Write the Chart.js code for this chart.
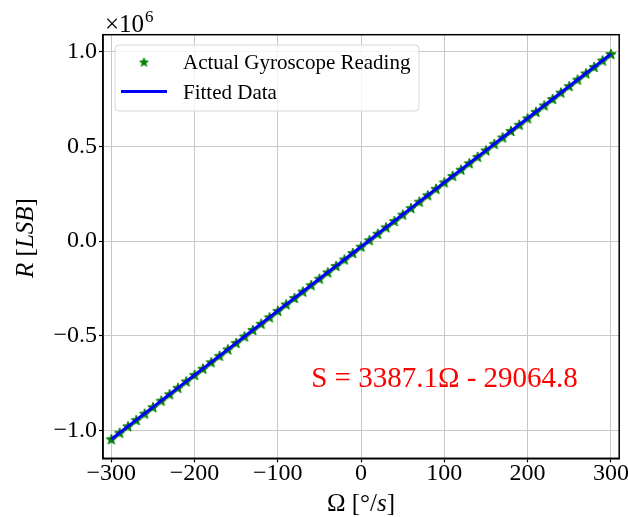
<!DOCTYPE html>
<html>
<head>
<meta charset="utf-8">
<script src="https://cdn.jsdelivr.net/npm/chart.js@4.4.1/dist/chart.umd.min.js"></script>
<style>
  html, body { margin: 0; padding: 0; background: #ffffff; }
  #wrap { width: 628px; height: 517px; position: relative; }
</style>
</head>
<body>
<div id="wrap"><canvas id="chart" width="628" height="517"></canvas></div>
<script>
// Angular rate set points [deg/s]
const omega = [
  -300, -290, -280, -270, -260, -250, -240, -230, -220, -210,
  -200, -190, -180, -170, -160, -150, -140, -130, -120, -110,
  -100, -90, -80, -70, -60, -50, -40, -30, -20, -10,
  0, 10, 20, 30, 40, 50, 60, 70, 80, 90,
  100, 110, 120, 130, 140, 150, 160, 170, 180, 190,
  200, 210, 220, 230, 240, 250, 260, 270, 280, 290, 300
];

// Raw gyroscope output [LSB]
const reading = [
  -1045000, -1011000, -977000, -944000, -910000, -876000, -842000, -808000, -774000, -740000,
  -706000, -673000, -639000, -605000, -571000, -537000, -503000, -469000, -436000, -402000,
  -368000, -334000, -300000, -266000, -232000, -198000, -165000, -131000, -97000, -63000,
  -29000, 5000, 39000, 73000, 106000, 140000, 174000, 208000, 242000, 276000,
  310000, 344000, 377000, 411000, 445000, 479000, 513000, 547000, 581000, 614000,
  648000, 682000, 716000, 750000, 784000, 818000, 852000, 885000, 919000, 953000, 987000
];

// Least-squares fit R = S * omega + b
const fitSlope = 3387.1;
const fitIntercept = -29064.8;
const fitText = 'S = 3387.1Ω - 29064.8';

const seriesNames = ['Actual Gyroscope Reading', 'Fitted Data'];

const xTicks = [-300, -200, -100, 0, 100, 200, 300];
const xTickLabels = ['−300', '−200', '−100', '0', '100', '200', '300'];
const yTicks = [-1000000, -500000, 0, 500000, 1000000];
const yTickLabels = ['−1.0', '−0.5', '0.0', '0.5', '1.0'];
const yScaleText = '×10';
const yScaleExp = '6';

const SERIF = '"Liberation Serif", "DejaVu Serif", serif';
const GREEN = '#008000';
const BLUE = '#0000ff';

// filled five-point star used as the point marker
function makeStar(r, color) {
  const size = Math.ceil(r * 2 + 3);
  const cv = document.createElement('canvas');
  cv.width = size; cv.height = size;
  const g = cv.getContext('2d');
  g.translate(size / 2, size / 2 + 0.5);
  g.beginPath();
  for (let i = 0; i < 10; i++) {
    const rr = (i % 2) ? r * 0.42 : r;
    const a = -Math.PI / 2 + i * Math.PI / 5;
    g.lineTo(rr * Math.cos(a), rr * Math.sin(a));
  }
  g.closePath();
  g.fillStyle = color; g.fill();
  g.lineWidth = 1; g.strokeStyle = color; g.lineJoin = 'miter'; g.stroke();
  return cv;
}
const starMarker = makeStar(5.4, GREEN);
const legendStar = makeStar(4.6, GREEN);

// draw a run of text pieces with individual styles, centred on (cx, cy)
function drawPieces(ctx, pieces, cx, cy, size, rotate) {
  ctx.save();
  ctx.translate(cx, cy);
  if (rotate) ctx.rotate(-Math.PI / 2);
  ctx.textBaseline = 'middle';
  ctx.textAlign = 'left';
  let total = 0;
  const widths = pieces.map(p => {
    ctx.font = (p.italic ? 'italic ' : '') + size + 'px ' + SERIF;
    const w = ctx.measureText(p.t).width;
    total += w;
    return w;
  });
  let x = -total / 2;
  pieces.forEach((p, i) => {
    ctx.font = (p.italic ? 'italic ' : '') + size + 'px ' + SERIF;
    ctx.fillStyle = '#000';
    ctx.fillText(p.t, x, 0);
    x += widths[i];
  });
  ctx.restore();
}

const decorations = {
  id: 'decorations',
  afterDraw(chart) {
    const ctx = chart.ctx;
    const a = chart.chartArea;
    const xs = chart.scales.x, ys = chart.scales.y;

    // frame around the plotting area
    ctx.save();
    ctx.strokeStyle = '#000';
    ctx.lineWidth = 1.5;
    ctx.strokeRect(a.left, a.top, a.right - a.left, a.bottom - a.top);
    ctx.restore();

    // fit equation
    ctx.save();
    ctx.font = '29px ' + SERIF;
    ctx.fillStyle = '#ff0000';
    ctx.textAlign = 'left';
    ctx.textBaseline = 'alphabetic';
    ctx.fillText(fitText, xs.getPixelForValue(-60), ys.getPixelForValue(-770000));
    ctx.restore();

    // legend
    const lx = 115, ly = 45, lw = 304, lh = 66, rad = 4;
    ctx.save();
    ctx.beginPath();
    ctx.moveTo(lx + rad, ly);
    ctx.arcTo(lx + lw, ly, lx + lw, ly + lh, rad);
    ctx.arcTo(lx + lw, ly + lh, lx, ly + lh, rad);
    ctx.arcTo(lx, ly + lh, lx, ly, rad);
    ctx.arcTo(lx, ly, lx + lw, ly, rad);
    ctx.closePath();
    ctx.fillStyle = 'rgba(255,255,255,0.8)';
    ctx.fill();
    ctx.strokeStyle = '#d6d6d6';
    ctx.lineWidth = 1;
    ctx.stroke();

    const ds = chart.data.datasets;
    ctx.drawImage(legendStar, 144 - legendStar.width / 2, 62 - legendStar.height / 2);
    ctx.beginPath();
    ctx.moveTo(121, 91.5); ctx.lineTo(167, 91.5);
    ctx.strokeStyle = BLUE; ctx.lineWidth = 3; ctx.stroke();
    ctx.font = '21px ' + SERIF;
    ctx.fillStyle = '#000';
    ctx.textBaseline = 'middle';
    ctx.textAlign = 'left';
    ctx.fillText(ds[0].label, 183, 63);
    ctx.fillText(ds[1].label, 183, 93);
    ctx.restore();

    // axis titles
    drawPieces(ctx, [{t: 'R', italic: true}, {t: ' ['}, {t: 'LSB', italic: true}, {t: ']'}], 26, 238, 25, true);
    drawPieces(ctx, [{t: 'Ω [°/'}, {t: 's', italic: true}, {t: ']'}], 361, 504, 25, false);

    // offset text for the y axis
    ctx.save();
    ctx.fillStyle = '#000';
    ctx.textBaseline = 'alphabetic';
    ctx.textAlign = 'left';
    ctx.font = '25px ' + SERIF;
    ctx.fillText(yScaleText, 105, 32);
    const w = ctx.measureText(yScaleText).width;
    ctx.font = '17px ' + SERIF;
    ctx.fillText(yScaleExp, 105 + w + 1, 22);
    ctx.restore();
  }
};

const chart = new Chart(document.getElementById('chart'), {
  type: 'scatter',
  data: {
    datasets: [
      {
        type: 'scatter',
        label: seriesNames[0],
        data: omega.map((w, i) => ({ x: w, y: reading[i] })),
        pointStyle: starMarker,
        pointRadius: 6,
        showLine: false,
        order: 1
      },
      {
        type: 'line',
        label: seriesNames[1],
        data: omega.map(w => ({ x: w, y: fitSlope * w + fitIntercept })),
        borderColor: BLUE,
        backgroundColor: BLUE,
        borderWidth: 3,
        pointRadius: 0,
        fill: false,
        tension: 0,
        order: 0
      }
    ]
  },
  options: {
    responsive: false,
    animation: false,
    devicePixelRatio: 1,
    layout: { padding: { left: 0, right: 7.5, top: 34.7, bottom: 0 } },
    plugins: { legend: { display: false }, tooltip: { enabled: false } },
    scales: {
      x: {
        type: 'linear',
        min: -310,
        max: 310,
        afterBuildTicks: s => { s.ticks = xTicks.map(v => ({ value: v })); },
        afterFit: s => { s.height = 58.7; },
        ticks: {
          autoSkip: false,
          maxRotation: 0,
          padding: -1,
          color: '#000',
          font: { family: SERIF, size: 24, lineHeight: 1 },
          callback: v => xTickLabels[xTicks.indexOf(v)]
        },
        grid: { color: '#c8c8c8', lineWidth: 1, tickColor: '#000', tickLength: 4, tickWidth: 1.2 },
        border: { display: true, color: '#000', width: 1.5 }
      },
      y: {
        type: 'linear',
        min: -1146000,
        max: 1089000,
        afterBuildTicks: s => { s.ticks = yTicks.map(v => ({ value: v })); },
        afterFit: s => { s.width = 103; },
        ticks: {
          autoSkip: false,
          padding: 2,
          color: '#000',
          font: { family: SERIF, size: 24, lineHeight: 1 },
          callback: v => yTickLabels[yTicks.indexOf(v)]
        },
        grid: { color: '#c8c8c8', lineWidth: 1, tickColor: '#000', tickLength: 4, tickWidth: 1.2 },
        border: { display: true, color: '#000', width: 1.5 }
      }
    }
  },
  plugins: [decorations]
});
</script>
</body>
</html>
